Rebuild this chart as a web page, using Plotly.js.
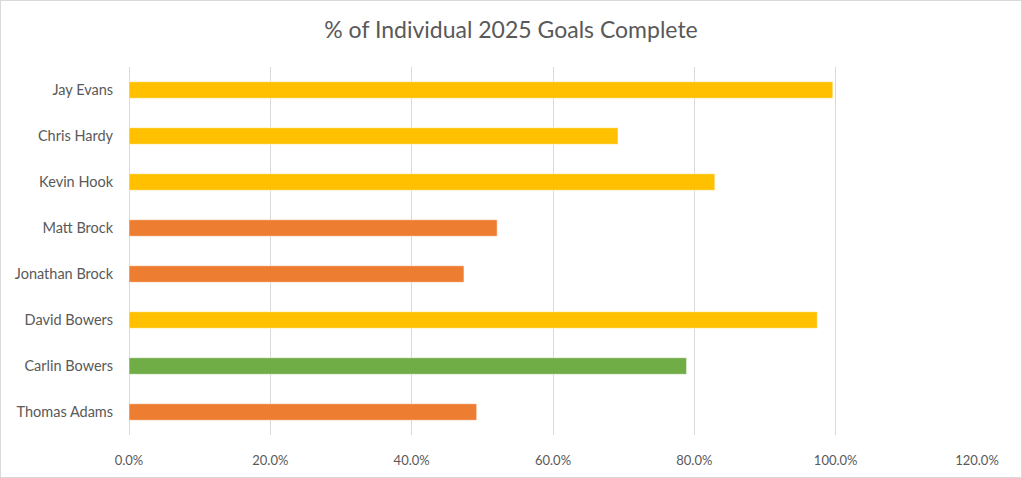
<!DOCTYPE html>
<html>
<head>
<meta charset="utf-8">
<script src="https://cdn.plot.ly/plotly-3.0.1.min.js"></script>
<style>
  html, body { margin: 0; padding: 0; background: #fff; }
  #wrap { position: relative; width: 1022px; height: 478px; }
  #chart { width: 1022px; height: 478px; }
  #frame { position: absolute; left: 0; top: 0; width: 1022px; height: 478px; box-sizing: border-box; border: 1px solid #D9D9D9; pointer-events: none; }
</style>
</head>
<body>
<div id="wrap"><div id="chart"></div><div id="frame"></div></div>
<script>
const names = ["Jay Evans", "Chris Hardy", "Kevin Hook", "Matt Brock", "Jonathan Brock", "David Bowers", "Carlin Bowers", "Thomas Adams"];
const pctComplete = [0.996, 0.692, 0.829, 0.521, 0.474, 0.974, 0.789, 0.492];
const barColors = ["#FFC000", "#FFC000", "#FFC000", "#ED7D31", "#ED7D31", "#FFC000", "#70AD47", "#ED7D31"];
const xTickVals = [0, 0.2, 0.4, 0.6, 0.8, 1.0, 1.2];

const font = "Lato, 'Open Sans', sans-serif";

Plotly.newPlot("chart", [{
  type: "bar",
  orientation: "h",
  y: names,
  x: pctComplete,
  width: 0.36,
  marker: { color: barColors, line: { color: "rgba(255,255,255,0.5)", width: 1 } },
  hoverinfo: "skip"
}], {
  width: 1022,
  height: 478,
  margin: { l: 129, r: 45, t: 67, b: 43 },
  paper_bgcolor: "#FFFFFF",
  plot_bgcolor: "#FFFFFF",
  showlegend: false,
  title: {
    text: "% of Individual 2025 Goals Complete",
    font: { family: font, size: 23, color: "#595959" },
    x: 0.5, xanchor: "center",
    y: 1 - 30 / 478, yref: "container", yanchor: "middle"
  },
  xaxis: {
    range: [0, 1.2],
    tickvals: xTickVals,
    tickformat: ".1%",
    showgrid: true,
    gridcolor: "#D9D9D9",
    gridwidth: 1,
    zeroline: true,
    zerolinecolor: "#D9D9D9",
    zerolinewidth: 1,
    showline: false,
    ticks: "outside",
    ticklen: 13,
    tickcolor: "rgba(0,0,0,0)",
    tickfont: { family: font, size: 13, color: "#595959" },
    automargin: false,
    fixedrange: true
  },
  yaxis: {
    type: "category",
    autorange: "reversed",
    showgrid: false,
    zeroline: false,
    showline: false,
    ticks: "outside",
    ticklen: 12,
    tickcolor: "rgba(0,0,0,0)",
    tickfont: { family: font, size: 14.5, color: "#595959" },
    automargin: false,
    fixedrange: true
  },
  bargap: 0.64
}, { displayModeBar: false, staticPlot: true });
</script>
</body>
</html>
